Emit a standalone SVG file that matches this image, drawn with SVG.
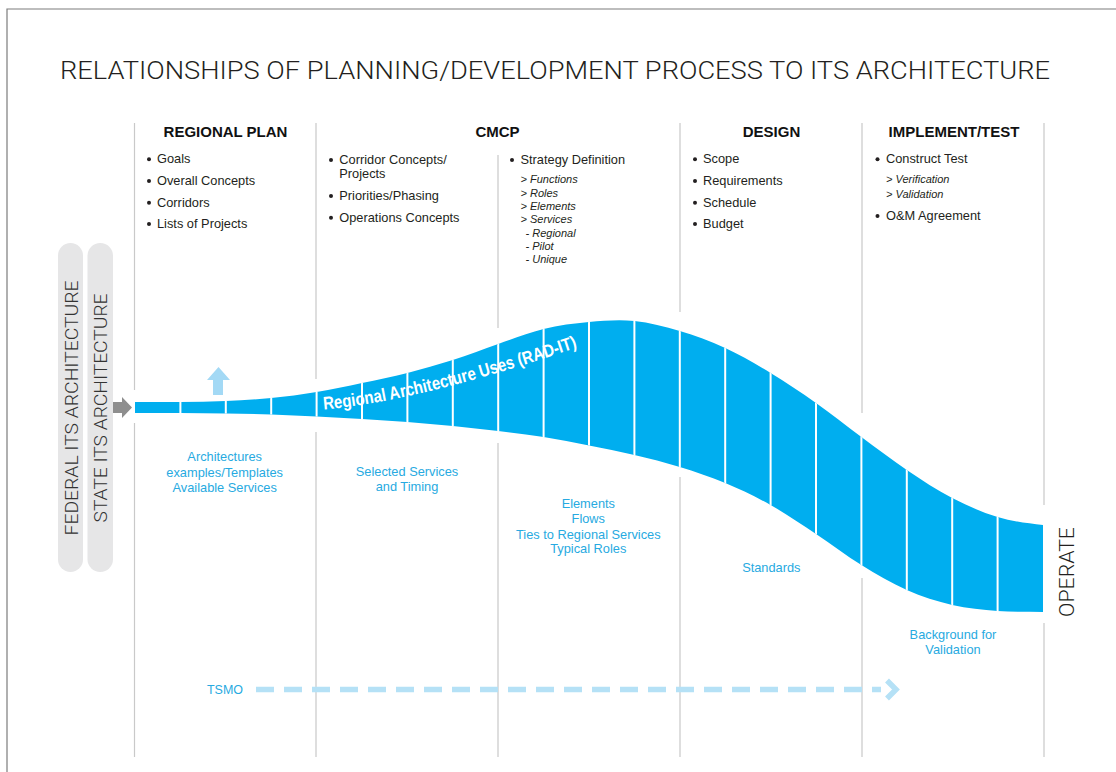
<svg xmlns="http://www.w3.org/2000/svg" width="1116" height="772" viewBox="0 0 1116 772">
<style>
text{font-family:"Liberation Sans",Arial,Helvetica,sans-serif;}
.light{font-family:Roboto,"Liberation Sans",Arial,sans-serif;font-weight:300;}
.title{font-size:26.5px;fill:#231f20;}
.hd{font-size:15px;font-weight:bold;fill:#111;text-anchor:middle;}
.it{font-size:12.8px;fill:#231f20;}
.sub{font-size:11px;font-style:italic;fill:#231f20;}
.bl{font-size:12.8px;fill:#27aae1;text-anchor:middle;}
.vt{font-size:18px;fill:#333;text-anchor:middle;}
.grid{stroke:#c9c9c9;stroke-width:1.2;fill:none;}
.div{stroke:#fff;stroke-width:2;}
.pill{fill:#e6e6e7;}
.dot{fill:#231f20;}
</style>
<defs>
<path id="bandShape" d="M135,402 C140,402 165.3,402.17 180.4,402 S210.7,401.67 225.8,401 S256.1,399.5 271.2,398 S301.5,394.5 316.6,392 S346.9,386.17 362,383 S392.3,376.83 407.4,373 S437.7,364.83 452.8,360 S483.1,349.17 498.2,344 S528.5,332.67 543.6,329 S573.9,323.33 589,322 S619.3,319.5 634.4,321 S664.7,326.5 679.8,331 S710.1,341 725.2,348 S755.5,363.83 770.6,373 S800.9,392.33 816,403 S846.3,425.83 861.4,437 S891.7,459.83 906.8,470 S937.1,490.17 952.2,498 S982.5,512.5 997.6,517 S1027.9,523.5 1043,525 L1043,612 C1028,611.8 1012.73,612.17 997.6,611 S967.33,608.5 952.2,605 S921.93,596.67 906.8,590 S876.53,574.33 861.4,565 S831.13,544 816,534 S785.73,513.5 770.6,505 S740.33,489.33 725.2,483 S694.93,471.67 679.8,467 S649.53,458.58 634.4,455 S604.13,448.5 589,445.5 S558.73,439.42 543.6,437 S513.33,432.83 498.2,431 S467.93,427.5 452.8,426 S422.53,423.17 407.4,422 S377.13,419.92 362,419 S331.73,417.25 316.6,416.5 S286.33,415 271.2,414.5 S240.93,413.75 225.8,413.5 S195.53,413.08 180.4,413 S150,413 135,413 Z"/>
<clipPath id="bandClip"><use href="#bandShape"/></clipPath>
<path id="labelPath" d="M324,409.5 Q420,401.5 590,343"/>
</defs>

<rect x="0" y="0" width="1116" height="772" fill="#fff"/>
<path d="M7,772 V9 H1116" fill="none" stroke="#7c7c7c" stroke-width="1.2"/>

<text class="title light" x="60" y="79" textLength="990" lengthAdjust="spacingAndGlyphs">RELATIONSHIPS OF PLANNING/DEVELOPMENT PROCESS TO ITS ARCHITECTURE</text>

<g id="grid-lines">
<path class="grid" d="M134.5,123 V390 M134.5,423 V757"/>
<path class="grid" d="M316,123 V379 M316,432 V757"/>
<path class="grid" d="M498,155 V328 M498,443 V757"/>
<path class="grid" d="M680,123 V312 M680,477 V757"/>
<path class="grid" d="M862,123 V413 M862,578 V757"/>
<path class="grid" d="M1044,123 V505 M1044,623 V757"/>
</g>

<g id="federal-pill">
<rect class="pill" x="58" y="243" width="25" height="329" rx="12.5"/>
<text class="vt light" transform="translate(77.5,408) rotate(-90)" textLength="255" lengthAdjust="spacingAndGlyphs">FEDERAL ITS ARCHITECTURE</text>
</g>
<g id="state-pill">
<rect class="pill" x="87.5" y="243" width="25.5" height="329" rx="12.75"/>
<text class="vt light" transform="translate(106.5,408) rotate(-90)" textLength="229" lengthAdjust="spacingAndGlyphs">STATE ITS ARCHITECTURE</text>
</g>

<g id="regional-plan">
<text class="hd" x="225.5" y="137">REGIONAL PLAN</text>
<circle class="dot" cx="149" cy="159.3" r="2"/><text class="it" x="157" y="163.3">Goals</text>
<circle class="dot" cx="149" cy="181" r="2"/><text class="it" x="157" y="185">Overall Concepts</text>
<circle class="dot" cx="149" cy="202.7" r="2"/><text class="it" x="157" y="206.7">Corridors</text>
<circle class="dot" cx="149" cy="224" r="2"/><text class="it" x="157" y="228">Lists of Projects</text>
</g>

<g id="cmcp">
<text class="hd" x="497.5" y="137">CMCP</text>
<circle class="dot" cx="331" cy="160" r="2"/><text class="it" x="339.3" y="164">Corridor Concepts/</text>
<text class="it" x="339.3" y="177.6">Projects</text>
<circle class="dot" cx="331" cy="196" r="2"/><text class="it" x="339.3" y="200">Priorities/Phasing</text>
<circle class="dot" cx="331" cy="217.7" r="2"/><text class="it" x="339.3" y="221.7">Operations Concepts</text>
<circle class="dot" cx="512" cy="160" r="2"/><text class="it" x="520.5" y="164">Strategy Definition</text>
<text class="sub" x="520.5" y="183.3">&gt; Functions</text>
<text class="sub" x="520.5" y="196.6">&gt; Roles</text>
<text class="sub" x="520.5" y="210">&gt; Elements</text>
<text class="sub" x="520.5" y="223.3">&gt; Services</text>
<text class="sub" x="525.5" y="236.6">- Regional</text>
<text class="sub" x="525.5" y="250">- Pilot</text>
<text class="sub" x="525.5" y="263.3">- Unique</text>
</g>

<g id="design">
<text class="hd" x="771.5" y="137">DESIGN</text>
<circle class="dot" cx="695" cy="159.3" r="2"/><text class="it" x="703" y="163.3">Scope</text>
<circle class="dot" cx="695" cy="181" r="2"/><text class="it" x="703" y="185">Requirements</text>
<circle class="dot" cx="695" cy="202.7" r="2"/><text class="it" x="703" y="206.7">Schedule</text>
<circle class="dot" cx="695" cy="224" r="2"/><text class="it" x="703" y="228">Budget</text>
</g>

<g id="implement-test">
<text class="hd" x="954" y="137">IMPLEMENT/TEST</text>
<circle class="dot" cx="877.5" cy="159.3" r="2"/><text class="it" x="886" y="163.3">Construct Test</text>
<text class="sub" x="886" y="183.3">&gt; Verification</text>
<text class="sub" x="886" y="198.3">&gt; Validation</text>
<circle class="dot" cx="877.5" cy="216" r="2"/><text class="it" x="886" y="220">O&amp;M Agreement</text>
</g>

<g id="rad-it-band">
<use href="#bandShape" fill="#00aeef"/>
<g clip-path="url(#bandClip)">
<path class="div" d="M180.4,300V640 M225.8,300V640 M271.2,300V640 M316.6,300V640 M362,300V640 M407.4,300V640 M452.8,300V640 M498.2,300V640 M543.6,300V640 M589,300V640 M634.4,300V640 M679.8,300V640 M725.2,300V640 M770.6,300V640 M816,300V640 M861.4,300V640 M906.8,300V640 M952.2,300V640 M997.6,300V640"/>
</g>
<text font-size="18" font-weight="bold" fill="#fff"><textPath href="#labelPath" textLength="262" lengthAdjust="spacingAndGlyphs">Regional Architecture Uses (RAD-IT)</textPath></text>
</g>

<g id="operate">
<text class="light" transform="translate(1074,572) rotate(-90)" font-size="20" fill="#231f20" text-anchor="middle" textLength="90" lengthAdjust="spacingAndGlyphs">OPERATE</text>
</g>

<g id="uses-labels">
<text class="bl" x="224.7" y="461">Architectures</text>
<text class="bl" x="224.7" y="476.7">examples/Templates</text>
<text class="bl" x="224.7" y="491.7">Available Services</text>
<text class="bl" x="407" y="476">Selected Services</text>
<text class="bl" x="407" y="490.7">and Timing</text>
<text class="bl" x="588.3" y="508.3">Elements</text>
<text class="bl" x="588.3" y="523.3">Flows</text>
<text class="bl" x="588.3" y="538.7">Ties to Regional Services</text>
<text class="bl" x="588.3" y="553.3">Typical Roles</text>
<text class="bl" x="771.3" y="571.7">Standards</text>
<text class="bl" x="953" y="639">Background for</text>
<text class="bl" x="953" y="654">Validation</text>
<text x="207" y="694" font-size="12.5" fill="#27aae1" textLength="36" lengthAdjust="spacingAndGlyphs">TSMO</text>
</g>

<g id="connectors">
<path d="M113,402 H122 V397 L132,407.5 L122,418 V413 H113 Z" fill="#8e8e8e"/>
<path d="M213,395 V380 H207 L218.5,367 L230,380 H223 V395 Z" fill="#a3d9f5"/>
<path d="M256,689.5 H881" stroke="#b5e1f6" stroke-width="5.5" stroke-dasharray="18 10" fill="none"/>
<path d="M887,680.5 L896,689.5 L887,698.5" stroke="#b5e1f6" stroke-width="5.5" fill="none"/>
</g>
</svg>
